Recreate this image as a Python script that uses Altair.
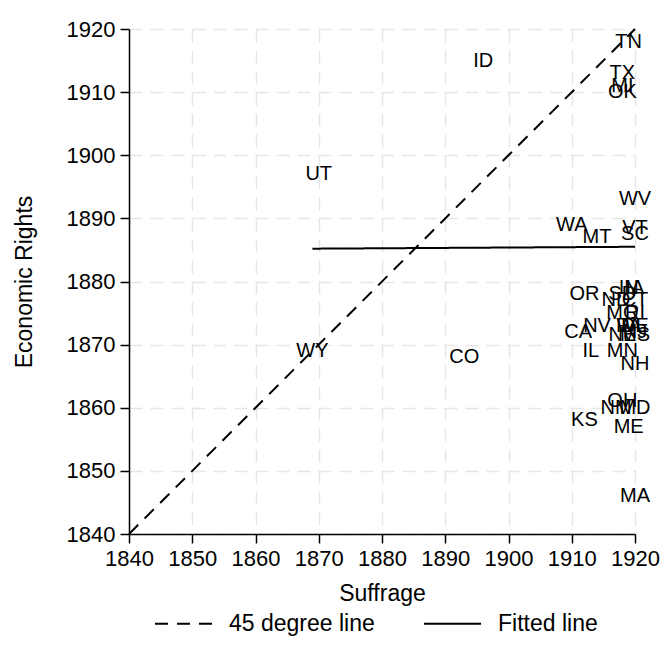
import altair as alt
import pandas as pd

FONT = "Liberation Sans"

# State labels: year of suffrage (x) and year of economic rights (y)
states = ["WY", "UT", "CO", "ID", "WA", "CA", "OR", "KS", "IL", "NV",
          "MT", "ND", "NM", "OH", "TX", "MI", "OK", "SD", "MO", "IN",
          "TN", "ME", "MN", "NE", "PA", "WI", "IA", "CT", "RI", "DE",
          "NJ", "MS", "NH", "MD", "MA", "WV", "VT", "SC"]
suffrage = [1869, 1870, 1893, 1896, 1910, 1911, 1912, 1912, 1913, 1914,
            1914, 1917, 1917, 1918, 1918, 1918, 1918, 1918, 1918, 1919,
            1919, 1919, 1918, 1918, 1919, 1919, 1920, 1920, 1920, 1920,
            1920, 1920, 1920, 1920, 1920, 1920, 1920, 1920]
econ = [1869, 1897, 1868, 1915, 1889, 1872, 1878, 1858, 1869, 1873,
        1887, 1877, 1860, 1861, 1913, 1911, 1910, 1878, 1875, 1879,
        1918, 1857, 1869, 1871.5, 1873, 1873, 1879, 1877, 1875, 1873,
        1872, 1871.5, 1867, 1860, 1846, 1893, 1888.5, 1887.5]

# Reference lines
line_series = ["45 degree line", "45 degree line", "Fitted line", "Fitted line"]
line_x = [1840, 1920, 1869, 1920]
line_y = [1840, 1920, 1885.2, 1885.5]

ticks = [1840, 1850, 1860, 1870, 1880, 1890, 1900, 1910, 1920]

pts = pd.DataFrame({"state": states, "suffrage": suffrage, "econ": econ})
lines = pd.DataFrame({"series": line_series, "x": line_x, "y": line_y})

xscale = alt.Scale(domain=[1840, 1920], nice=False, zero=False)
yscale = alt.Scale(domain=[1840, 1920], nice=False, zero=False)

axis_common = dict(
    values=ticks, format="d", labelFont=FONT, labelFontSize=22,
    labelColor="black", labelOverlap=False, labelFlush=False,
    titleFont=FONT, titleFontSize=23,
    titleFontWeight="normal", titleColor="black",
    domainColor="black", domainWidth=1.5, tickColor="black",
    tickWidth=1.5, tickSize=9, labelPadding=5,
    grid=True, gridColor="#e6e6e6", gridDash=[13, 8], gridWidth=1.5,
)

lines_chart = alt.Chart(lines).mark_line(color="black", strokeWidth=2).encode(
    x=alt.X("x:Q", scale=xscale,
            axis=alt.Axis(title="Suffrage", titlePadding=13, **axis_common)),
    y=alt.Y("y:Q", scale=yscale,
            axis=alt.Axis(title="Economic Rights", titlePadding=30, **axis_common)),
    order="x:Q",
    strokeDash=alt.StrokeDash(
        "series:N",
        scale=alt.Scale(domain=["45 degree line", "Fitted line"],
                        range=[[13, 9], [1, 0]]),
        legend=alt.Legend(
            title=None, orient="none", legendX=25, legendY=565,
            direction="horizontal", symbolType="stroke", symbolSize=3249,
            symbolStrokeWidth=2, symbolStrokeColor="black",
            labelFont=FONT, labelFontSize=23, labelColor="black",
            labelOffset=16, columnPadding=45, labelLimit=300,
        ),
    ),
)

text_chart = alt.Chart(pts).mark_text(
    font=FONT, fontSize=20, color="black", align="center", baseline="middle"
).encode(
    x=alt.X("suffrage:Q", scale=xscale),
    y=alt.Y("econ:Q", scale=yscale),
    text="state:N",
)

chart = alt.layer(lines_chart, text_chart).properties(
    width=506, height=505,
    autosize=alt.AutoSizeParams(type="none"),
    padding={"left": 129, "top": 29, "right": 29, "bottom": 125},
    background="white",
).configure_view(stroke=None)

chart.save("out.html", embed_options={"renderer": "svg", "actions": False})
